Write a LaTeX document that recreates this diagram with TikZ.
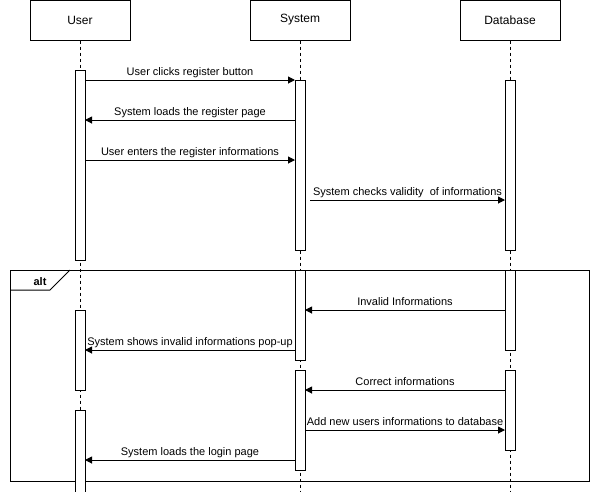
\documentclass[tikz,border=0pt]{standalone}
\usepackage{fontspec}
\setmainfont{Liberation Sans}
\usetikzlibrary{arrows.meta}
\usetikzlibrary{positioning}

\tikzset{
	head/.style={draw, line width=1pt, minimum width=100pt, minimum height=40pt, inner sep=0pt, font=\fontsize{12}{14}\selectfont},
	act/.style={draw, fill=white, line width=1pt, minimum width=10pt, inner sep=0pt, outer sep=0pt},
	life/.style={line width=1pt, dash pattern=on 3pt off 3pt},
	msg/.style={line width=1pt, -{Triangle[length=7pt,width=7pt]}},
	lbl/.style={above, inner sep=2pt, font=\fontsize{11}{13}\selectfont}
}

\begin{document}
\begin{tikzpicture}[x=1pt, y=-1pt, font=\fontsize{11}{13}\selectfont]
	\useasboundingbox (0,0) rectangle (591,491);
	
	% heads of the lifelines
	\node[head] (User) at (80,20) {User};
	\node[head] (System) at (300,20) {System};
	\node[head] (Db) at (510,20) {Database};
	
	% alt frame
	\node[draw, line width=1pt, anchor=north west, minimum width=579pt, minimum height=211pt, inner sep=0pt] (alt) at (10,270) {};
	\draw[line width=1pt] (alt.north west) ++(0,20) -- ++(40,0) -- ++(20,-20);
	\node at (40,282) {\textbf{alt}};
	
	\draw[life] (User.south) -- (User.south |- 0,491);
	\draw[life] (System.south) -- (System.south |- 0,491);
	\draw[life] (Db.south) -- (Db.south |- 0,491);
	
	% activations
	\node[act, minimum height=190pt] (ua1) at (80,165) {};
	\node[act, minimum height=80pt] (ua2) at (80,350) {};
	\node[act, minimum height=82pt] (ua3) at (80,451) {};
	\node[act, minimum height=170pt] (sa1) at (300,165) {};
	\node[act, minimum height=90pt] (sa2) at (300,315) {};
	\node[act, minimum height=100pt] (sa3) at (300,420) {};
	\node[act, minimum height=170pt] (da1) at (510,165) {};
	\node[act, minimum height=80pt] (da2) at (510,310) {};
	\node[act, minimum height=80pt] (da3) at (510,410) {};
	
	% messages
	\draw[msg] (ua1.east |- 0,80) -- (sa1.west |- 0,80) node[pos=.5, lbl] {User clicks register button};
	\draw[msg] (sa1.west |- 0,120) -- (ua1.east |- 0,120) node[pos=.5, lbl] {System loads the register page};
	\draw[msg] (ua1.east |- 0,160) -- (sa1.west |- 0,160) node[pos=.5, lbl] {User enters the register informations};
	\draw[msg] ([xshift=5pt]sa1.east |- 0,200) -- (da1.west |- 0,200) node[pos=.5, lbl] {System checks validity\ \ of informations};
	\draw[msg] (da2.west |- 0,310) -- (sa2.east |- 0,310) node[pos=.5, lbl, yshift=2pt] {Invalid Informations};
	\draw[msg] (sa2.west |- 0,350) -- (ua2.east |- 0,350) node[pos=.5, lbl] {System shows invalid informations pop-up};
	\draw[msg] (da3.west |- 0,390) -- (sa3.east |- 0,390) node[pos=.5, lbl, yshift=2pt] {Correct informations};
	\draw[msg] (sa3.east |- 0,430) -- (da3.west |- 0,430) node[pos=.5, lbl, yshift=2pt] {Add new users informations to database};
	\draw[msg] (sa3.west |- 0,460) -- (ua3.east |- 0,460) node[pos=.5, lbl] {System loads the login page};
\end{tikzpicture}
\end{document}
